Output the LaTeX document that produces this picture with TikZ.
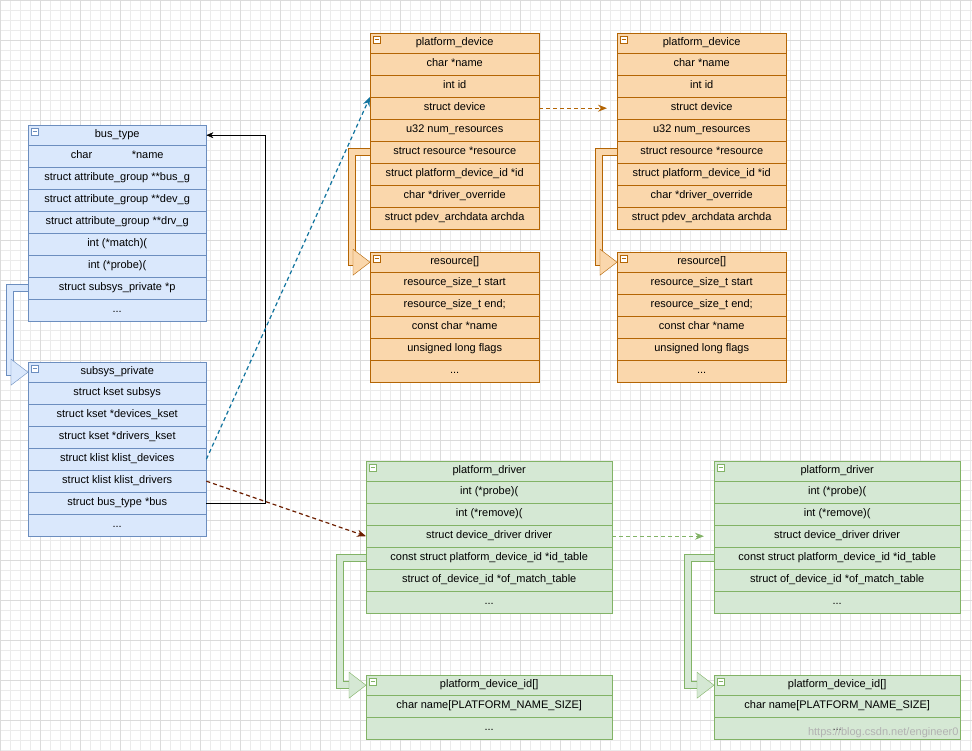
\documentclass[tikz,border=0pt]{standalone}
\usepackage{fontspec}
\setmainfont{Liberation Sans}
\usetikzlibrary{arrows.meta}
\definecolor{bfill}{HTML}{DAE8FC}\definecolor{bline}{HTML}{6C8EBF}
\definecolor{ofill}{HTML}{FAD7AC}\definecolor{oline}{HTML}{B46504}
\definecolor{gfill}{HTML}{D5E8D4}\definecolor{gline}{HTML}{82B366}
\definecolor{bluec}{HTML}{10739E}\definecolor{brownc}{HTML}{6D1F00}
\newcommand\mydots{...}
\newcommand\mkbox[7]{%
 \node[hdr, fill=#5fill, draw=#5line, minimum width=#4pt, anchor=north west] (#1) at (#2,#3) {#6};
 \draw[#5line, fill=white] ([xshift=3pt,yshift=-3pt]#1.north west) rectangle ++(7pt,-7pt);
 \draw[#5line] ([xshift=4.5pt,yshift=-6.5pt]#1.north west) -- ++(4pt,0);
 \foreach \r [count=\i] in {#7} {
  \node[row, fill=#5fill, draw=#5line, minimum width=#4pt, anchor=north west] (#1-\i) at (#2,{#3+20+22*(\i-1)}) {\r\hfill};}
}
\newcommand\fold[3]{%
 \draw[draw=#1line, double=#1fill, double distance=6pt, line width=1pt] #2;
 \draw[draw=#1line, fill=#1fill, line join=miter] ([xshift=-17pt,yshift=13pt]#3.west) -- (#3.west) -- ([xshift=-17pt,yshift=-13pt]#3.west) -- cycle;
}
\tikzset{
 hdr/.style={rectangle, minimum height=20pt, inner sep=0pt, font=\fontsize{11}{13}\selectfont, text height=8pt, text depth=2.5pt},
 row/.style={rectangle, minimum height=22pt, inner xsep=5pt, inner ysep=0pt, font=\fontsize{11}{13}\selectfont, text height=8pt, text depth=2.5pt},
 dsh/.style={line width=1.2pt, -{Stealth[length=9pt,width=7pt]}, dash pattern=on 4pt off 3pt},
}
\begin{document}
\begin{tikzpicture}[x=1pt,y=-1pt]
\useasboundingbox (0,0) rectangle (972,751);
\fill[white] (0,0) rectangle (972,751);
\draw[black!8, step=10pt] (0,0) grid (972,751);
\draw[black!14, step=40pt] (0,0) grid (972,751);

\mkbox{bt}{28}{125}{178}{b}{bus\_type}{char\hspace{3.6em}*name,struct attribute\_group **bus\_g,struct attribute\_group **dev\_g,struct attribute\_group **drv\_g,int (*match)(,int (*probe)(,struct subsys\_private *p,\mydots}
\mkbox{sp}{28}{362}{178}{b}{subsys\_private}{struct kset subsys,struct kset *devices\_kset,struct kset *drivers\_kset,struct klist klist\_devices,struct klist klist\_drivers,struct bus\_type *bus,\mydots}
\mkbox{pda}{370}{33}{169}{o}{platform\_device}{char *name,int id,struct device,u32 num\_resources,struct resource *resource,struct platform\_device\_id *id,char *driver\_override,struct pdev\_archdata archda}
\mkbox{pdb}{617}{33}{169}{o}{platform\_device}{char *name,int id,struct device,u32 num\_resources,struct resource *resource,struct platform\_device\_id *id,char *driver\_override,struct pdev\_archdata archda}
\mkbox{rsa}{370}{252}{169}{o}{resource[]}{resource\_size\_t start,resource\_size\_t end;,const char *name,unsigned long flags,\mydots}
\mkbox{rsb}{617}{252}{169}{o}{resource[]}{resource\_size\_t start,resource\_size\_t end;,const char *name,unsigned long flags,\mydots}
\mkbox{dra}{366}{461}{246}{g}{platform\_driver}{int (*probe)(,int (*remove)(,struct device\_driver driver,const struct platform\_device\_id *id\_table,struct of\_device\_id *of\_match\_table,\mydots}
\mkbox{drb}{714}{461}{246}{g}{platform\_driver}{int (*probe)(,int (*remove)(,struct device\_driver driver,const struct platform\_device\_id *id\_table,struct of\_device\_id *of\_match\_table,\mydots}
\mkbox{ida}{366}{675}{246}{g}{platform\_device\_id[]}{char name[PLATFORM\_NAME\_SIZE],\mydots}
\mkbox{idb}{714}{675}{246}{g}{platform\_device\_id[]}{char name[PLATFORM\_NAME\_SIZE],\mydots}

\fold{b}{(bt-7.west) -- ++(-18,0) |- ([xshift=-14pt]sp.west)}{sp}
\fold{o}{(pda-5.west) -- ++(-18,0) |- ([xshift=-14pt]rsa.west)}{rsa}
\fold{o}{(pdb-5.west) -- ++(-18,0) |- ([xshift=-14pt]rsb.west)}{rsb}
\fold{g}{(dra-4.west) -- ++(-26,0) |- ([xshift=-14pt]ida.west)}{ida}
\fold{g}{(drb-4.west) -- ++(-26,0) |- ([xshift=-14pt]idb.west)}{idb}

\draw[black, -{Stealth[length=7pt,width=6pt]}] (sp-6.east) -- ++(59,0) |- (bt.east);
\draw[dsh, bluec] (sp-4.east) -- (pda-3.north west);
\draw[dsh, brownc] (sp-5.east) -- (dra-3.west);
\draw[dsh, oline] (pda-3.east) -- ([xshift=-10pt]pdb-3.west);
\draw[dsh, gline] (dra-3.east) -- ([xshift=-10pt]drb-3.west);

\node[anchor=east, text=black!30, font=\fontsize{11}{13}\selectfont] (wm) at (962,733) {https://blog.csdn.net/engineer0};
\end{tikzpicture}
\end{document}
